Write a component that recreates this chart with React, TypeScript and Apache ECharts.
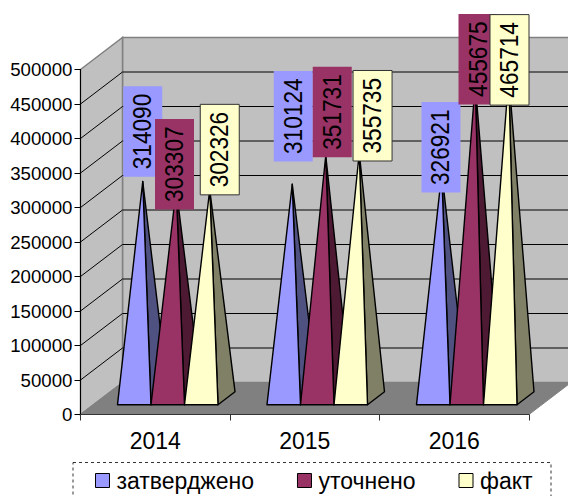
import React, { useEffect, useRef } from "react";
import * as echarts from "echarts";

const categories = ["2014", "2015", "2016"];
const seriesNames = ["затверджено", "уточнено", "факт"];
const approved = [314090, 310124, 326921];
const revised = [303307, 351731, 455675];
const actual = [302326, 355735, 465714];
const seriesValues = [approved, revised, actual];
const yTicks = [0, 50000, 100000, 150000, 200000, 250000, 300000, 350000, 400000, 450000, 500000];

const frontColors = ["#9999FF", "#993366", "#FFFFCC"];
const sideColors = ["#4F5180", "#4D1933", "#808066"];

// hand-placed data label boxes: centre offset from the pyramid apex, [category][series]
const labelShift = [
  [[0, -50], [-1.75, -24.7], [10, -40]],
  [[1, -68], [6.5, -43.5], [13.3, -37]],
  [[-0.75, -25.4], [2.75, -24.6], [0.75, -17]],
];

const FONT = '"Liberation Sans", Arial, sans-serif';
const DEPTH_X = 42;
const DEPTH_Y = -32;
const MARGIN_X = 12.5;
const MARGIN_Y = -9.8;
const PYR_DX = 17;
const PYR_DY = -13;
const BAR_RATIO = 0.2241;
const INK = "#000";

function apexOf(api: any, cat: number, ser: number, value: number) {
  const c = api.coord([cat, value]);
  const w = api.size([1, 0])[0] * BAR_RATIO;
  const left = c[0] + MARGIN_X - 1.5 * w + ser * w;
  return {
    w,
    left,
    x: left + w / 2 + PYR_DX / 2,
    y: c[1] + MARGIN_Y + PYR_DY / 2,
  };
}

function renderWalls(params: any, api: any) {
  const domain = api.coord([0, 0]);
  const catW = api.size([1, 0])[0];
  const x0 = domain[0] - catW / 2;
  const x1 = x0 + catW * categories.length;
  const yAt = (v: number) => api.coord([0, v])[1];
  const yBase = yAt(0);
  const yTop = yAt(yTicks[yTicks.length - 1]);
  const gray = "#808080";
  const children: any[] = [
    {
      type: "polygon",
      shape: { points: [[x0 + DEPTH_X, yTop + DEPTH_Y], [x1 + DEPTH_X, yTop + DEPTH_Y], [x1 + DEPTH_X, yBase + DEPTH_Y], [x0 + DEPTH_X, yBase + DEPTH_Y]] },
      style: { fill: "#C0C0C0", stroke: gray, lineWidth: 1.5 },
    },
    {
      type: "polygon",
      shape: { points: [[x0, yTop], [x0 + DEPTH_X, yTop + DEPTH_Y], [x0 + DEPTH_X, yBase + DEPTH_Y], [x0, yBase]] },
      style: { fill: "#C0C0C0", stroke: gray, lineWidth: 1.5 },
    },
    {
      type: "polygon",
      shape: { points: [[x0, yBase], [x1, yBase], [x1 + DEPTH_X, yBase + DEPTH_Y], [x0 + DEPTH_X, yBase + DEPTH_Y]] },
      style: { fill: "#808080", stroke: gray, lineWidth: 1 },
    },
  ];
  yTicks.slice(1, -1).forEach((t) => {
    const y = yAt(t);
    children.push({
      type: "polyline",
      shape: { points: [[x0, y], [x0 + DEPTH_X, y + DEPTH_Y], [x1 + DEPTH_X, y + DEPTH_Y]] },
      style: { fill: "none", stroke: INK, lineWidth: 1 },
    });
  });
  return { type: "group", children };
}

function renderPyramid(ser: number) {
  return (params: any, api: any) => {
    const cat = api.value(0);
    const a = apexOf(api, cat, ser, api.value(1));
    const base = apexOf(api, cat, ser, 0);
    const by = base.y - PYR_DY / 2;
    const l = a.left;
    const r = l + a.w;
    return {
      type: "group",
      children: [
        {
          type: "polygon",
          shape: { points: [[r, by], [r + PYR_DX, by + PYR_DY], [a.x, a.y]] },
          style: { fill: sideColors[ser], stroke: INK, lineWidth: 1.4, lineJoin: "round" },
        },
        {
          type: "polygon",
          shape: { points: [[l, by], [r, by], [a.x, a.y]] },
          style: { fill: frontColors[ser], stroke: INK, lineWidth: 1.4, lineJoin: "round" },
        },
      ],
    };
  };
}

function renderLabel(params: any, api: any) {
  const cat = api.value(0);
  const ser = api.value(1);
  const value = api.value(2);
  const a = apexOf(api, cat, ser, value);
  const [dx, dy] = labelShift[cat][ser];
  const cx = a.x + dx;
  const cy = a.y + dy;
  const boxW = 39;
  const boxH = 90.5;
  return {
    type: "group",
    children: [
      {
        type: "rect",
        shape: { x: cx - boxW / 2, y: cy - boxH / 2, width: boxW, height: boxH },
        style: {
          fill: frontColors[ser],
          stroke: ser === 2 ? "#333" : "none",
          lineWidth: 1,
        },
      },
      {
        type: "text",
        x: cx - 0.5,
        y: cy,
        rotation: Math.PI / 2,
        scaleX: 0.885,
        style: {
          text: String(value),
          fill: "#000",
          font: `25.6px ${FONT}`,
          align: "center",
          verticalAlign: "middle",
        },
      },
    ],
  };
}

export default function App() {
  const ref = useRef<HTMLDivElement>(null);

  useEffect(() => {
    const chart = echarts.init(ref.current!, undefined, { renderer: "svg" });
    const labelRows: number[][] = [];
    seriesValues.forEach((vals, s) =>
      vals.forEach((v, c) => labelRows.push([c, s, v]))
    );
    chart.setOption({
      animation: false,
      backgroundColor: "#fff",
      grid: { left: 80.5, right: 39, top: 69.5, bottom: 81.5 },
      xAxis: {
        type: "category",
        data: categories,
        boundaryGap: true,
        z: 10,
        axisLine: { lineStyle: { color: "#333", width: 1 } },
        axisTick: { show: true, length: 6, alignWithLabel: false, lineStyle: { color: "#333" } },
        axisLabel: { fontFamily: FONT, fontSize: 23, color: "#000", margin: 15 },
        splitLine: { show: false },
      },
      yAxis: {
        type: "value",
        min: 0,
        max: 500000,
        interval: 50000,
        z: 10,
        axisLine: { show: true, lineStyle: { color: "#000", width: 1 } },
        axisTick: { show: true, length: 6, lineStyle: { color: "#000" } },
        axisLabel: { fontFamily: FONT, fontSize: 18.67, color: "#000", margin: 8, formatter: (v: number) => String(v) },
        splitLine: { show: false },
      },
      legend: {
        show: true,
        left: 95,
        top: 469,
        padding: 0,
        itemWidth: 14,
        itemHeight: 14,
        itemGap: 43,
        icon: "rect",
        selectedMode: false,
        data: seriesNames.map((name, i) => ({
          name,
          itemStyle: { color: frontColors[i], borderColor: "#000", borderWidth: 1 },
        })),
        textStyle: { fontFamily: FONT, fontSize: 23, color: "#000", padding: [0, 0, 0, 2] },
      },
      graphic: [
        {
          type: "rect",
          silent: true,
          shape: { x: 73, y: 462.5, width: 478, height: 60 },
          style: { fill: "none", stroke: "#333", lineWidth: 1, lineDash: [3, 3] },
        },
      ],
      series: [
        {
          type: "custom",
          silent: true,
          z: 1,
          data: [[0, 0]],
          renderItem: renderWalls,
          encode: { x: 0, y: 1 },
        },
        ...seriesNames.map((name, s) => ({
          type: "custom",
          name,
          silent: true,
          z: 2,
          itemStyle: { color: frontColors[s] },
          data: seriesValues[s].map((v, c) => [c, v]),
          renderItem: renderPyramid(s),
          encode: { x: 0, y: 1 },
        })),
        {
          type: "custom",
          silent: true,
          z: 3,
          data: labelRows,
          renderItem: renderLabel,
          encode: { x: 0, y: 2 },
        },
      ],
    });
    return () => chart.dispose();
  }, []);

  return (
    <div
      ref={ref}
      style={{ position: "absolute", left: 0, top: 0, width: 568, height: 496 }}
    />
  );
}
